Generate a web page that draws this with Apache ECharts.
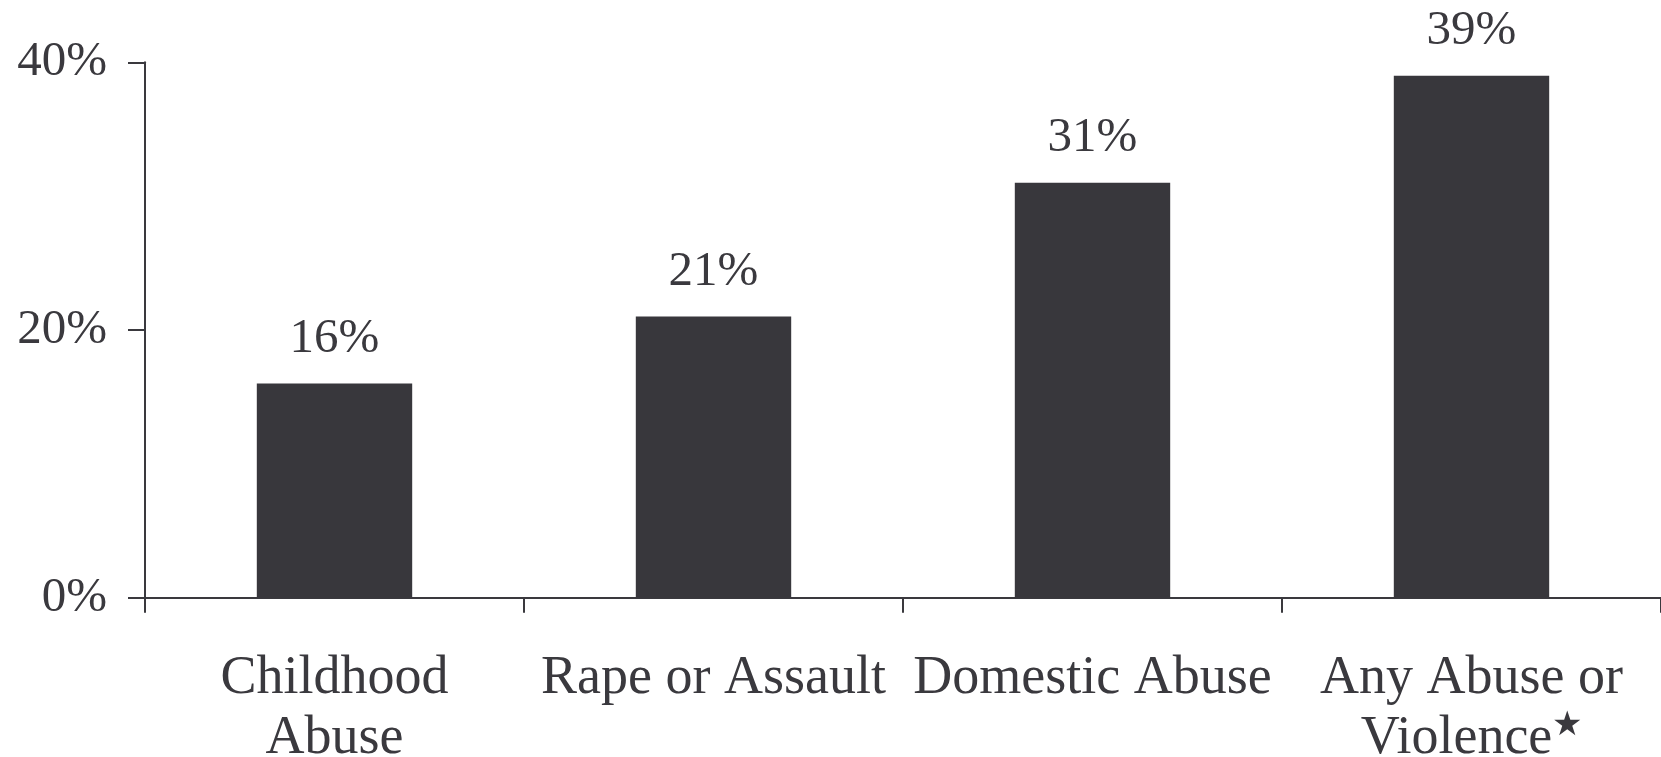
<!DOCTYPE html>
<html><head><meta charset="utf-8">
<script src="https://cdn.jsdelivr.net/npm/echarts@6/dist/echarts.min.js"></script>
<style>html,body{margin:0;padding:0;background:#fff}#c{width:1661px;height:757px}</style>
</head><body><div id="c"></div>
<script>
const categories = ['Childhood\nAbuse', 'Rape or Assault', 'Domestic Abuse', 'Any Abuse or\nViolence★'];
const values = [16, 21, 31, 39];
const yTicks = [0, 20, 40];

const ink = '#3a393e';
const font = '"Liberation Serif", "DejaVu Serif", serif';
const chart = echarts.init(document.getElementById('c'), null, {renderer: 'canvas'});
chart.setOption({
  backgroundColor: '#fff',
  animation: false,
  grid: {left: 145, right: 0, top: 62.3, bottom: 159.3, containLabel: false, outerBoundsMode: 'none'},
  xAxis: {
    type: 'category',
    data: categories,
    boundaryGap: true,
    axisLine: {show: true, lineStyle: {color: ink, width: 2}},
    axisTick: {show: true, length: 15, alignWithLabel: false, lineStyle: {color: ink, width: 2}},
    axisLabel: {
      interval: 0, color: ink, fontFamily: font, fontSize: 54, lineHeight: 60, margin: 51,
      formatter: function (v) {
        return v.replace('★', '{s|★}');
      },
      rich: {s: {fontSize: 34, verticalAlign: 'top', color: ink, fontFamily: font, lineHeight: 40}}
    }
  },
  yAxis: {
    type: 'value', min: yTicks[0], max: yTicks[yTicks.length - 1], interval: 20,
    splitLine: {show: false},
    axisLine: {show: true, lineStyle: {color: ink, width: 2}},
    axisTick: {show: true, length: 17, lineStyle: {color: ink, width: 2}},
    axisLabel: {color: ink, fontFamily: font, fontSize: 49, margin: 38, formatter: '{value}%'}
  },
  series: [{
    type: 'bar',
    data: values,
    barWidth: '41%',
    itemStyle: {color: '#38373c'},
    label: {show: true, position: 'top', distance: 20, color: ink, fontFamily: font, fontSize: 49, formatter: '{c}%'}
  }]
});
</script></body></html>
